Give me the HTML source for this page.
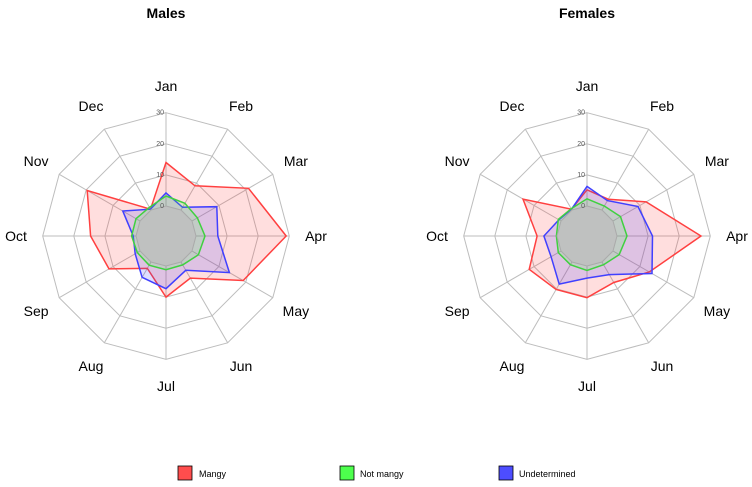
<!DOCTYPE html>
<html><head><meta charset="utf-8"><style>
body{margin:0;background:#fff;font-family:"Liberation Sans",sans-serif}
svg{display:block}
</style></head><body>
<svg id="chart" width="752" height="487">
<text x="166" y="18" text-anchor="middle" font-weight="bold" font-size="14">Males</text>
<text x="587" y="18" text-anchor="middle" font-weight="bold" font-size="14">Females</text>
<g>
<rect x="178" y="466" width="14" height="14" fill="#ff4d4d" stroke="#000" stroke-width="0.8"/>
<text x="199" y="477" font-size="9">Mangy</text>
<rect x="340" y="466" width="14" height="14" fill="#4dff4d" stroke="#000" stroke-width="0.8"/>
<text x="360" y="477" font-size="9">Not mangy</text>
<rect x="499" y="466" width="14" height="14" fill="#4d4dff" stroke="#000" stroke-width="0.8"/>
<text x="519" y="477" font-size="9">Undetermined</text>
</g>
</svg>
<script>
const months=["Jan","Feb","Mar","Apr","May","Jun","Jul","Aug","Sep","Oct","Nov","Dec"];
const ticks=[0,10,20,30];
const maleMangy=[14,9,21,29,19,6,10,2.4,11.5,14.6,19.6,0.3];
const maleNotMangy=[3.2,2.5,2,2.9,2.4,1.1,1.2,1.2,1,1.4,1.5,1];
const maleUndetermined=[4.2,1,9.2,7,13.9,3.1,7.3,5.7,1.8,0.9,6.4,0.3];
const femaleMangy=[5.2,4,12.3,27,13.5,7.6,10.2,10.2,11.8,6.4,14.1,0.3];
const femaleNotMangy=[2.3,1.5,2.8,3.2,2.3,1,1.4,1,1,0.2,1,0.5];
const femaleUndetermined=[6.3,3.5,9.3,11.4,14.5,4.7,3.9,8.2,3.7,4.2,0.8,0.3];
const NS="http://www.w3.org/2000/svg";
const svg=document.getElementById("chart");
const R0=30,K=3.11;
function rad(v){return R0+v*K;}
function pt(cx,cy,i,r){const a=i*Math.PI/6;return [cx+r*Math.sin(a),cy-r*Math.cos(a)];}
function mk(tag,attrs,parent){const e=document.createElementNS(NS,tag);for(const k in attrs)e.setAttribute(k,attrs[k]);(parent||svg).appendChild(e);return e;}
function poly(cx,cy,vals){return vals.map((v,i)=>pt(cx,cy,i,rad(v)).map(n=>n.toFixed(1)).join(",")).join(" ");}
function radar(cx,cy,series,prefix){
  const g=mk("g",{});
  
  
  ticks.slice(1).forEach(t=>{
    const p=mk("polygon",{points:poly(cx,cy,months.map(()=>t)),fill:"none",stroke:"#bdbdbd","stroke-width":1},g);
    
    
  });
  months.forEach((m,i)=>{
    const [x1,y1]=pt(cx,cy,i,R0),[x2,y2]=pt(cx,cy,i,rad(ticks[ticks.length-1]));
    const l=mk("line",{x1,y1,x2,y2,stroke:"#bdbdbd","stroke-width":1},g);
    
    
    const [lx,ly]=pt(cx,cy,i,150);
    const t=mk("text",{x:lx,y:ly+5,"text-anchor":"middle","font-size":14},g);
    t.textContent=m;
    
    
  });
  series.forEach(s=>{
    const p=mk("polygon",{points:poly(cx,cy,s.vals),fill:s.fill,stroke:s.stroke,"stroke-width":1.5},g);
    
    
  });
  const c=mk("polygon",{points:poly(cx,cy,months.map(()=>0)),fill:"rgba(190,190,190,0.75)",stroke:"#aaa","stroke-width":1},g);
  
  
  ticks.forEach(t=>{
    const tx=mk("text",{x:cx-2,y:cy-rad(t)+2,"text-anchor":"end","font-size":7,fill:"#555"},g);
    tx.textContent=t;
    
    
  });
}
radar(166,236,[
 {name:"mangy",vals:maleMangy,fill:"rgba(255,60,60,0.17)",stroke:"#ff4040"},
 {name:"undetermined",vals:maleUndetermined,fill:"rgba(60,60,255,0.17)",stroke:"#4040ff"},
 {name:"not-mangy",vals:maleNotMangy,fill:"rgba(60,255,60,0.17)",stroke:"#40d040"}],"males");
radar(587,236,[
 {name:"mangy",vals:femaleMangy,fill:"rgba(255,60,60,0.17)",stroke:"#ff4040"},
 {name:"undetermined",vals:femaleUndetermined,fill:"rgba(60,60,255,0.17)",stroke:"#4040ff"},
 {name:"not-mangy",vals:femaleNotMangy,fill:"rgba(60,255,60,0.17)",stroke:"#40d040"}],"females");
</script>
</body></html>
